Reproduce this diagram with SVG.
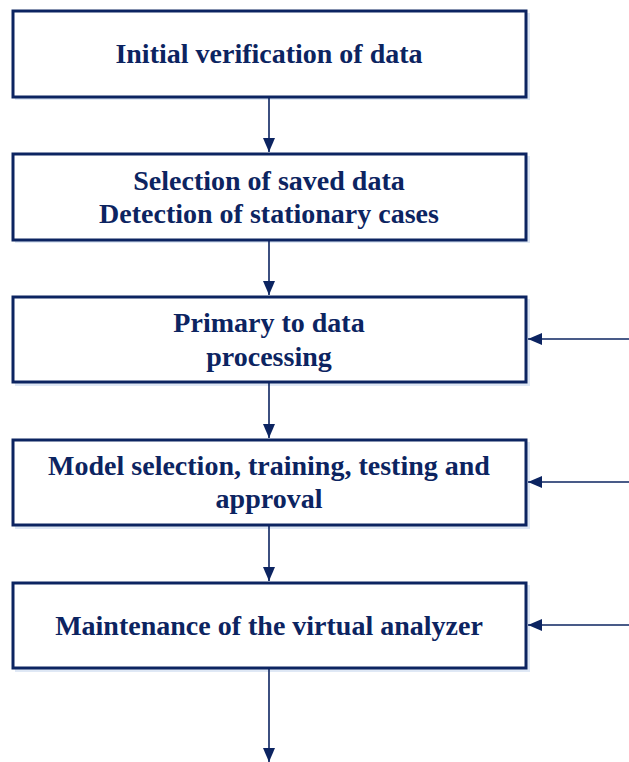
<svg xmlns="http://www.w3.org/2000/svg" width="629" height="762" viewBox="0 0 629 762">
<style>
.box{fill:#fff;stroke:#0c2461;stroke-width:3}
.sh{fill:#dfe8f5}
.t{font-family:"Liberation Serif","Times New Roman",serif;font-weight:bold;font-size:28px;fill:#0c2461;text-anchor:middle}
.c{stroke:#0c2461;stroke-width:1.6;fill:none}
</style>
<defs>
<marker id="ah2" viewBox="0 0 14 12" refX="14" refY="6" markerWidth="14" markerHeight="12" markerUnits="userSpaceOnUse" orient="auto">
<path d="M0,0 L14,6 L0,12 Z" fill="#0c2461"/>
</marker>
</defs>
<g id="n1"><rect class="sh" x="15" y="13" width="515" height="87"/><rect class="box" x="13" y="11" width="513" height="86"/><text class="t" x="269" y="63">Initial verification of data</text></g>
<g id="n2"><rect class="sh" x="15" y="156" width="515" height="87"/><rect class="box" x="13" y="154" width="513" height="86"/><text class="t" x="269" y="190">Selection of saved data</text><text class="t" x="269" y="223">Detection of stationary cases</text></g>
<g id="n3"><rect class="sh" x="15" y="299" width="515" height="87"/><rect class="box" x="13" y="297" width="513" height="85"/><text class="t" x="269" y="332">Primary to data</text><text class="t" x="269" y="366">processing</text></g>
<g id="n4"><rect class="sh" x="15" y="442" width="515" height="87"/><rect class="box" x="13" y="440" width="513" height="85"/><text class="t" x="269" y="475">Model selection, training, testing and</text><text class="t" x="269" y="508">approval</text></g>
<g id="n5"><rect class="sh" x="15" y="585" width="515" height="87"/><rect class="box" x="13" y="583" width="513" height="85"/><text class="t" x="269" y="635">Maintenance of the virtual analyzer</text></g>
<g id="connectors">
<line class="c" x1="269" y1="98" x2="269" y2="152" marker-end="url(#ah2)"/>
<line class="c" x1="269" y1="241" x2="269" y2="295" marker-end="url(#ah2)"/>
<line class="c" x1="269" y1="383" x2="269" y2="438" marker-end="url(#ah2)"/>
<line class="c" x1="269" y1="526" x2="269" y2="581" marker-end="url(#ah2)"/>
<line class="c" x1="269" y1="669" x2="269" y2="762" marker-end="url(#ah2)"/>
<line class="c" x1="629" y1="339" x2="528" y2="339" marker-end="url(#ah2)"/>
<line class="c" x1="629" y1="482" x2="528" y2="482" marker-end="url(#ah2)"/>
<line class="c" x1="629" y1="625" x2="528" y2="625" marker-end="url(#ah2)"/>
</g>
</svg>
